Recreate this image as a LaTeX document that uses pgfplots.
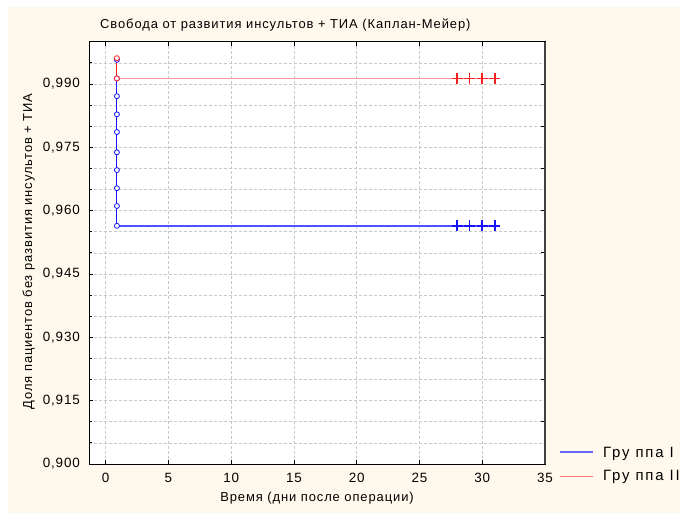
\documentclass[border=0pt]{standalone}
\usepackage{fontspec}
\setmainfont{Liberation Sans}
\usepackage{pgfplots}
\pgfplotsset{compat=1.18}

\definecolor{cream}{RGB}{255,249,237}
\definecolor{gridgray}{RGB}{200,200,200}
\definecolor{kmblue}{RGB}{20,20,255}
\definecolor{kmlineblue}{RGB}{80,80,255}
\definecolor{kmred}{RGB}{255,30,30}
\definecolor{kmpink}{RGB}{255,150,150}
\definecolor{legblue}{RGB}{100,100,255}
\definecolor{legred}{RGB}{255,120,120}

\newcommand{\labelfont}{\fontsize{13}{15}\selectfont\addfontfeature{LetterSpace=7}}
\newcommand{\tickfont}{\fontsize{13.5}{15}\selectfont\addfontfeature{LetterSpace=6}}
\newcommand{\legendfont}{\fontsize{15}{17}\selectfont\addfontfeature{LetterSpace=12}}

% Kaplan-Meier estimates: events at day ~1, censored patients at days 28-31
\pgfplotstableread{
t     s
0.9   0.9957
0.9   0.9913
0.9   0.9871
0.9   0.9828
0.9   0.9786
0.9   0.9738
0.9   0.9696
0.9   0.9653
0.9   0.9611
0.9   0.9564
}\groupIevents
\pgfplotstableread{
t     s
0.9   0.9961
0.9   0.9913
}\groupIIevents

\begin{document}
\begin{tikzpicture}
\useasboundingbox (0,0) rectangle (680bp,513bp);
\fill[white] (0,0) rectangle (680bp,513bp);
\fill[cream] (8bp,0) rectangle (680bp,506bp);

\begin{axis}[
  at={(89.3bp,49bp)}, anchor=south west,
  scale only axis, width=455.7bp, height=422.3bp,
  xmin=-1.3, xmax=35, ymin=0.9, ymax=1.0,
  axis background/.style={fill=white},
  xtick={0,5,...,35},
  ytick={0.900,0.915,0.930,0.945,0.960,0.975,0.990},
  minor ytick={0.905,0.910,0.920,0.925,0.935,0.940,0.950,0.955,0.965,0.970,0.980,0.985,0.995},
  ytick pos=left,
  tick align=inside,
  major tick length=4bp, minor tick length=3bp,
  xmajorgrids, ymajorgrids, yminorgrids,
  major grid style={gridgray, dash pattern=on 3bp off 2bp, line width=0.6bp},
  minor grid style={gridgray, dash pattern=on 3bp off 2bp, line width=0.6bp},
  axis line style={black, line width=1bp},
  tick style={black, line width=0.8bp},
  ticklabel style={font=\tickfont, inner sep=0pt},
  xticklabel style={anchor=base, yshift=-18bp},
  yticklabel style={anchor=east, xshift=-9.3bp,
    /pgf/number format/.cd, fixed, fixed zerofill, precision=3, use comma},
  /pgf/number format/assume math mode=true,
]
% Group I
\addplot[kmblue, line width=1bp, mark=none] coordinates {(0.9,0.9957) (0.9,0.9564)};
\addplot[kmlineblue, line width=1.7bp, mark=none] coordinates {(0.9,0.9564) (31,0.9564)};
\addplot[only marks, mark=*, mark size=2.5bp, mark options={draw=kmblue, fill=white, line width=0.8bp}]
  table[x=t, y=s] {\groupIevents};
\addplot[only marks, mark=+, mark size=5.5bp, mark options={draw=kmblue, line width=1.6bp}]
  coordinates {(28,0.9564) (29,0.9564) (30,0.9564) (31,0.9564)};
% Group II
\addplot[kmred, line width=1bp, mark=none] coordinates {(0.9,0.9961) (0.9,0.9913)};
\addplot[kmpink, line width=0.8bp, mark=none] coordinates {(0.9,0.9913) (31,0.9913)};
\addplot[only marks, mark=*, mark size=2.5bp, mark options={draw=kmred, fill=white, line width=0.8bp}]
  table[x=t, y=s] {\groupIIevents};
\addplot[only marks, mark=+, mark size=5.5bp, mark options={draw=kmred, line width=1.6bp}]
  coordinates {(28,0.9913) (29,0.9913) (30,0.9913) (31,0.9913)};
\end{axis}

% right-hand axis with its own tick spacing
\begin{axis}[
  at={(89.3bp,49bp)}, anchor=south west,
  scale only axis, width=455.7bp, height=422.3bp,
  xmin=-1.3, xmax=35, ymin=0.9, ymax=1.0,
  hide x axis, axis y line*=right,
  y axis line style={-, black!75, line width=1.4bp},
  ytick={0.91,0.92,0.93,0.94,0.95,0.96,0.97,0.98,0.99},
  yticklabels={},
  tick align=inside, major tick length=4bp,
  tick style={black, line width=0.8bp},
]
\addplot[draw=none] coordinates {(0,0.95)};
\end{axis}

\node[anchor=base west, inner sep=0pt, font=\labelfont] at (100bp,484bp)
  {Свобода от развития инсультов + ТИА (Каплан-Мейер)};
\node[anchor=base, inner sep=0pt, rotate=90, font=\labelfont] at (32bp,261.5bp)
  {Доля пациентов без развития инсультов + ТИА};
\node[anchor=base, inner sep=0pt, font=\labelfont] at (317bp,11.5bp)
  {Время (дни после операции)};

% legend
\draw[legblue, line width=1.8bp] (560bp,61bp) -- (593bp,61bp);
\draw[legred, line width=0.8bp] (560bp,37bp) -- (593bp,37bp);
\node[anchor=base west, inner sep=0pt, font=\legendfont] at (603bp,55.7bp) {Гру ппа I};
\node[anchor=base west, inner sep=0pt, font=\legendfont] at (603bp,32.3bp) {Гру ппа II};
\end{tikzpicture}
\end{document}
